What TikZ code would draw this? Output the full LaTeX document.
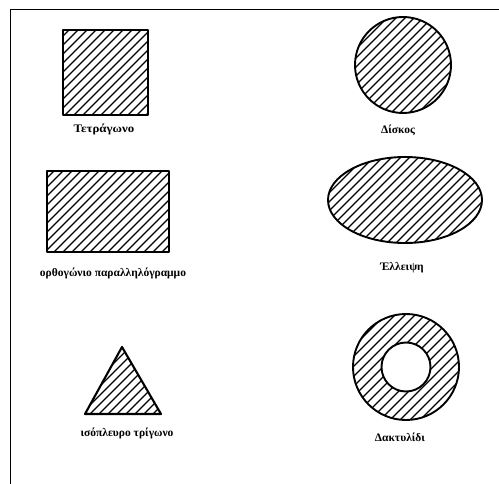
\documentclass[tikz,border=0pt]{standalone}
\usepackage{fontspec}
\setmainfont{Liberation Serif}
\newcommand\hatchall[1]{\foreach \j [evaluate=\j as \k using -500+\j*#1] in {0,...,112} \draw[hatchline] (\k,500) -- ++(500,-500);}
\begin{document}
\begin{tikzpicture}[x=1pt,y=-1pt,
  outline/.style={line width=2.1pt, line join=round},
  hatchline/.style={line width=1.1pt},
  lbl/.style={font=\bfseries\fontsize{11.5}{13}\selectfont, inner sep=0pt}]
\useasboundingbox (0,0) rectangle (499,484);
\draw[line width=1pt] (10,484) -- (10,10) -- (499,10);
% square
\coordinate (sqA) at (63,30);
\coordinate (sqB) at (148,115);
\begin{scope}\clip (sqA) rectangle (sqB); \hatchall{9} \end{scope}
\draw[outline] (sqA) rectangle (sqB);
\node[lbl, xscale=1.12] (lsq) at (104,129) {Τετράγωνο};
% rectangle
\coordinate (reA) at (47,171);
\coordinate (reB) at (169,252);
\begin{scope}\clip (reA) rectangle (reB); \hatchall{9} \end{scope}
\draw[outline] (reA) rectangle (reB);
\node[lbl] (lre) at (113,273) {ορθογώνιο παραλληλόγραμμο};
% triangle
\coordinate (trT) at (122,347);
\coordinate (trL) at (85,414);
\coordinate (trR) at (161,414);
\begin{scope}\clip (trT) -- (trL) -- (trR) -- cycle; \hatchall{9} \end{scope}
\draw[outline] (trT) -- (trL) -- (trR) -- cycle;
\node[lbl] (ltr) at (127,433) {ισόπλευρο τρίγωνο};
% disc
\coordinate (di) at (403,65);
\begin{scope}\clip (di) circle [radius=48]; \hatchall{9} \end{scope}
\draw[outline, line width=1.9pt] (di) circle [radius=48];
\node[lbl] (ldi) at (398,130) {Δίσκος};
% ellipse
\coordinate (el) at (405,200);
\begin{scope}\clip (el) ellipse [x radius=77, y radius=43]; \hatchall{9} \end{scope}
\draw[outline, line width=1.9pt] (el) ellipse [x radius=77, y radius=43];
\node[lbl] (lel) at (402,268) {Έλλειψη};
% ring
\coordinate (ri) at (406,367);
\begin{scope}\clip (ri) circle [radius=53]; \hatchall{10} \end{scope}
\fill[white] (ri) circle [radius=24.5];
\draw[outline, line width=1.9pt] (ri) circle [radius=53];
\draw[outline, line width=1.9pt] (ri) circle [radius=24.5];
\node[lbl] (lri) at (400,437) {Δακτυλίδι};
\end{tikzpicture}
\end{document}
